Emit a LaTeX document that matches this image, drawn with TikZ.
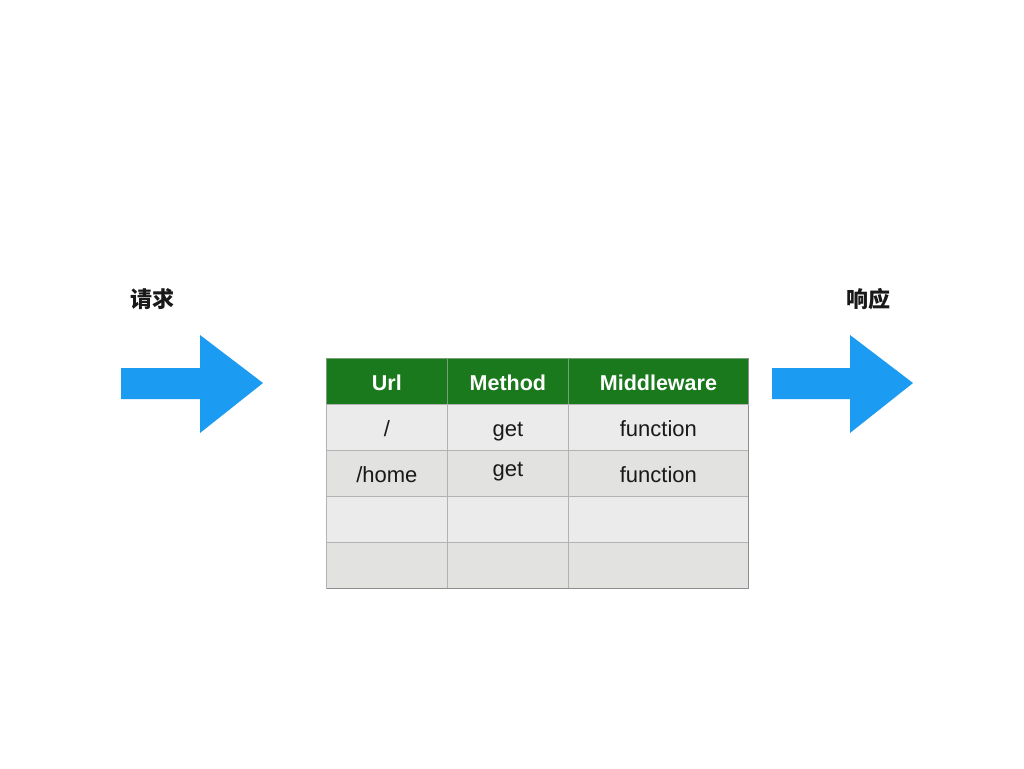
\documentclass[tikz,border=0pt]{standalone}
\usepackage{fontspec}
\setmainfont{Liberation Sans}
\newfontfamily\cjk{Noto Sans CJK SC}
\begin{document}
\begin{tikzpicture}[x=1pt,y=-1pt,
  cell/.style={draw=gridgray, line width=0.8pt, minimum height=46pt, inner sep=0pt, text height=17.5pt, text depth=0pt, anchor=north west, font=\fontsize{22}{24}\selectfont, text=black!90},
  hcell/.style={cell, fill=hgreen, draw=hline, text=white, font=\bfseries\fontsize{21.5}{24}\selectfont},
  lightrow/.style={cell, fill=rowa},
  darkrow/.style={cell, fill=rowb},
  col1/.style={minimum width=121pt},
  col2/.style={minimum width=121pt},
  col3/.style={minimum width=180pt},
  lbl/.style={font=\cjk\bfseries\fontsize{22}{24}\selectfont, text=black!90},
  bigarrow/.style={fill=arrowblue}
]
\definecolor{hgreen}{RGB}{26,121,28}
\definecolor{hline}{RGB}{120,160,120}
\definecolor{gridgray}{RGB}{178,178,178}
\definecolor{rowa}{RGB}{235,235,235}
\definecolor{rowb}{RGB}{226,226,224}
\definecolor{arrowblue}{RGB}{28,155,242}
\useasboundingbox (0,0) rectangle (1024,768);
\fill[white] (0,0) rectangle (1024,768);

% arrows
\fill[bigarrow] (121,368) -- (200,368) -- (200,335) -- (263,383) -- (200,433) -- (200,399) -- (121,399) -- cycle;
\fill[bigarrow] (772,368) -- (850,368) -- (850,335) -- (913,383) -- (850,433) -- (850,399) -- (772,399) -- cycle;

\node[lbl] (req) at (152,299) {请求};
\node[lbl] (resp) at (868,299) {响应};

% header
\node[hcell,col1] (h1) at (326,358) {Url};
\node[hcell,col2] (h2) at (447,358) {Method};
\node[hcell,col3] (h3) at (568,358) {Middleware};
% row 1
\node[lightrow,col1] (a1) at (326,404) {/};
\node[lightrow,col2] (a2) at (447,404) {get};
\node[lightrow,col3] (a3) at (568,404) {function};
% row 2
\node[darkrow,col1] (b1) at (326,450) {/home};
\node[darkrow,col2] (b2) at (447,450) {\raisebox{6pt}{get}};
\node[darkrow,col3] (b3) at (568,450) {function};
% row 3
\node[lightrow,col1] (c1) at (326,496) {};
\node[lightrow,col2] (c2) at (447,496) {};
\node[lightrow,col3] (c3) at (568,496) {};
% row 4
\node[darkrow,col1] (d1) at (326,542) {};
\node[darkrow,col2] (d2) at (447,542) {};
\node[darkrow,col3] (d3) at (568,542) {};

\draw[gridgray!80!black, line width=1pt] (d1.south west) -- (d3.south east) -- (h3.north east);
\draw[gridgray, line width=0.8pt] (h1.south west) -- (h3.south east);
\draw[gridgray, line width=0.8pt] (h1.south west) -- (d1.south west);
\end{tikzpicture}
\end{document}
